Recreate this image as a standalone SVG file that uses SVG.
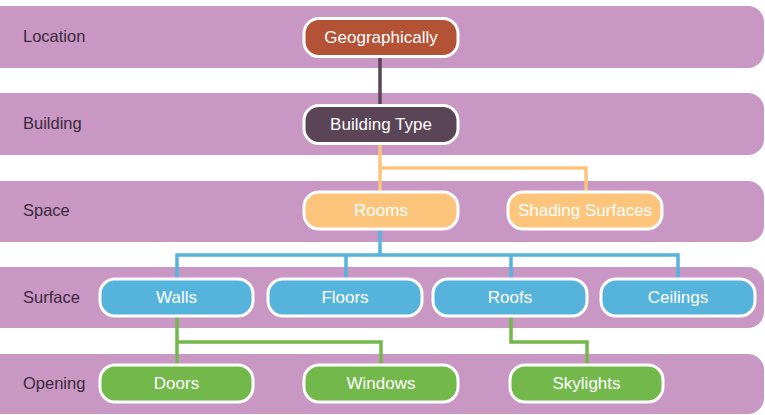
<svg xmlns="http://www.w3.org/2000/svg" width="765" height="415" viewBox="0 0 765 415">
<style>
.band{fill:#c897c4}
.lbl{font-family:"Liberation Sans",Arial,sans-serif;font-size:16.5px;fill:#3b2b3b}
.node rect{stroke:#fff;stroke-width:3}
.node text{font-family:"Liberation Sans",Arial,sans-serif;font-size:17px;fill:#fff;text-anchor:middle}
.c{fill:none;stroke-width:3.5}
</style>
<rect width="765" height="415" fill="#fff"/>
<g id="bands">
<rect class="band" x="-20" y="6" width="784" height="62" rx="16"/>
<rect class="band" x="-20" y="93" width="784" height="62" rx="16"/>
<rect class="band" x="-20" y="181" width="784" height="61" rx="16"/>
<rect class="band" x="-20" y="267" width="784" height="61" rx="16"/>
<rect class="band" x="-20" y="354" width="784" height="60" rx="16"/>
<text class="lbl" x="23" y="42">Location</text>
<text class="lbl" x="23" y="129">Building</text>
<text class="lbl" x="23" y="216">Space</text>
<text class="lbl" x="23" y="303">Surface</text>
<text class="lbl" x="23" y="389">Opening</text>
</g>
<g id="connectors">
<path class="c" stroke="#5a4455" d="M380 57V106"/>
<path class="c" stroke="#fdc57b" d="M380 143V192M380 168H586V192"/>
<path class="c" stroke="#56b4dc" d="M380 229V255M177 279V255H678V279M346 255V279M511 255V279"/>
<path class="c" stroke="#72b84a" d="M177 316V365M177 342H381V365M511 316V342H587V365"/>
</g>
<g id="geographically" class="node"><rect x="304" y="18.5" width="154" height="38" rx="15" fill="#b35234"/><text x="381" y="43">Geographically</text></g>
<g id="building-type" class="node"><rect x="304" y="105.5" width="154" height="38" rx="15" fill="#5a4455"/><text x="381" y="130">Building Type</text></g>
<g id="rooms" class="node"><rect x="304" y="192" width="154" height="37" rx="15" fill="#fdc57b"/><text x="381" y="216">Rooms</text></g>
<g id="shading-surfaces" class="node"><rect x="508" y="192" width="154" height="37" rx="15" fill="#fdc57b"/><text x="585" y="216">Shading Surfaces</text></g>
<g id="walls" class="node"><rect x="100" y="279" width="153" height="37" rx="15" fill="#56b4dc"/><text x="176.5" y="303">Walls</text></g>
<g id="floors" class="node"><rect x="268" y="279" width="154" height="37" rx="15" fill="#56b4dc"/><text x="345" y="303">Floors</text></g>
<g id="roofs" class="node"><rect x="433" y="279" width="154" height="37" rx="15" fill="#56b4dc"/><text x="510" y="303">Roofs</text></g>
<g id="ceilings" class="node"><rect x="601" y="279" width="154" height="37" rx="15" fill="#56b4dc"/><text x="678" y="303">Ceilings</text></g>
<g id="doors" class="node"><rect x="100" y="365" width="153" height="37" rx="15" fill="#72b84a"/><text x="176.5" y="389">Doors</text></g>
<g id="windows" class="node"><rect x="304" y="365" width="154" height="37" rx="15" fill="#72b84a"/><text x="381" y="389">Windows</text></g>
<g id="skylights" class="node"><rect x="510" y="365" width="153" height="37" rx="15" fill="#72b84a"/><text x="586.5" y="389">Skylights</text></g>
</svg>
